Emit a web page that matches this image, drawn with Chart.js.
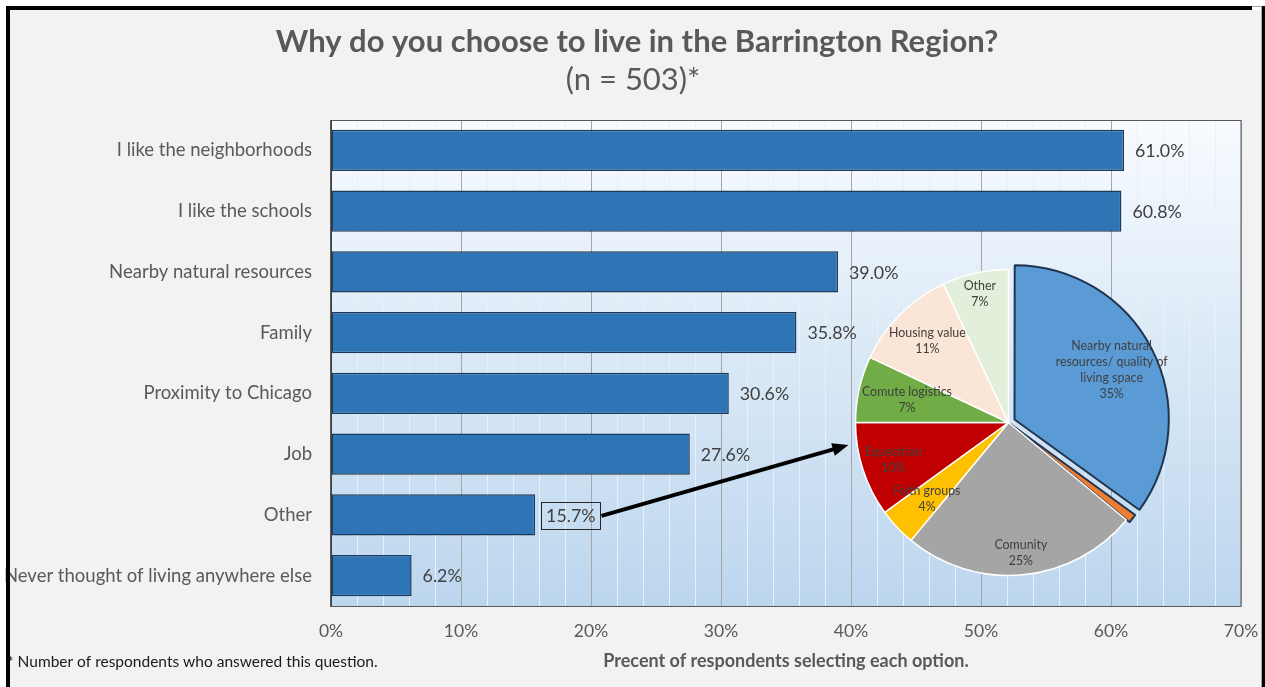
<!DOCTYPE html>
<html>
<head>
<meta charset="utf-8">
<script src="https://cdn.jsdelivr.net/npm/chart.js@4.4.1/dist/chart.umd.min.js"></script>
<style>
  html, body { margin: 0; padding: 0; background: #ffffff; }
  #wrap { position: relative; width: 1265px; height: 687px; overflow: hidden; }
  #bars { position: absolute; left: 0; top: 0; }
  #pie { position: absolute; left: 841px; top: 255px; }
</style>
</head>
<body>
<div id="wrap">
  <canvas id="bars" width="1265" height="687"></canvas>
  <canvas id="pie" width="335" height="335"></canvas>
</div>
<script>
// Bar data
const categories = [
  'I like the neighborhoods',
  'I like the schools',
  'Nearby natural resources',
  'Family',
  'Proximity to Chicago',
  'Job',
  'Other',
  'Never thought of living anywhere else'
];
const percents = [61.0, 60.8, 39.0, 35.8, 30.6, 27.6, 15.7, 6.2];
const xTickValues = [0, 10, 20, 30, 40, 50, 60, 70];

// Breakdown of "Other" answers (inset pie)
const pieLabels = [
  ['Nearby natural', 'resources/ quality of', 'living space'],
  [],
  ['Comunity'],
  ['Faith groups'],
  ['Equestrian'],
  ['Comute logistics'],
  ['Housing value'],
  ['Other']
];
const pieValues = [35, 1, 25, 4, 10, 7, 11, 7];

const titleText = 'Why do you choose to live in the Barrington Region?';
const subtitleText = '(n = 503)*';

const FONT = "Lato, 'Noto Sans', sans-serif";
const PLOT_LEFT = 331;

// Frame, titles, plot background, borders
const framePlugin = {
  id: 'frame',
  beforeDraw(chart) {
    const { ctx, chartArea: a } = chart;
    ctx.save();
    ctx.fillStyle = '#ffffff';
    ctx.fillRect(0, 0, chart.width, chart.height);
    ctx.fillStyle = '#f2f2f2';
    ctx.fillRect(10, 10, 1251, chart.height);
    const g = ctx.createLinearGradient(0, a.top, 0, a.bottom);
    g.addColorStop(0, '#f8fbff');
    g.addColorStop(0.5, '#d9e8f6');
    g.addColorStop(1, '#bcd6ee');
    ctx.fillStyle = g;
    ctx.fillRect(a.left, a.top, a.right - a.left, a.bottom - a.top);
    // titles
    ctx.fillStyle = '#595959';
    ctx.textAlign = 'center';
    ctx.textBaseline = 'middle';
    ctx.font = 'bold 31px ' + FONT;
    ctx.fillText(titleText, 637, 42);
    ctx.font = '31px ' + FONT;
    ctx.fillText(subtitleText, 633, 80);
    ctx.restore();
  },
  beforeDatasetsDraw(chart) {
    const { ctx, chartArea: a } = chart;
    ctx.save();
    ctx.strokeStyle = '#595959';
    ctx.lineWidth = 1;
    ctx.strokeRect(a.left - 0.5, a.top + 0.5, a.right - a.left + 0.5, a.bottom - a.top);
    ctx.restore();
  },
  afterDraw(chart) {
    const { ctx } = chart;
    ctx.save();
    // footnote
    ctx.fillStyle = '#1a1a1a';
    ctx.font = '15.5px ' + FONT;
    ctx.textBaseline = 'middle';
    ctx.textAlign = 'left';
    ctx.fillText('* Number of respondents who answered this question.', 7, 662);
    // outer black frame
    ctx.fillStyle = '#000000';
    ctx.fillRect(6, 6, 1246, 4);
    ctx.fillRect(6, 6, 4, chart.height);
    ctx.fillRect(1262, 6, 3, chart.height);
    ctx.fillStyle = '#a6a6a6';
    ctx.fillRect(1252, 6, 10, 1);
    ctx.fillRect(1261, 6, 1, chart.height);
    ctx.restore();
  }
};

// Value labels, boxed "Other" label and arrow to the pie
const labelPlugin = {
  id: 'valueLabels',
  afterDatasetsDraw(chart) {
    const { ctx } = chart;
    const meta = chart.getDatasetMeta(0);
    ctx.save();
    ctx.font = '17.8px ' + FONT;
    ctx.fillStyle = '#404040';
    ctx.textBaseline = 'middle';
    ctx.textAlign = 'left';
    let arrowStart = null;
    meta.data.forEach((bar, i) => {
      const txt = percents[i].toFixed(1) + '%';
      const tx = bar.x + 11;
      ctx.fillText(txt, tx, bar.y + 1);
      if (categories[i] === 'Other') {
        const w = ctx.measureText(txt).width;
        ctx.strokeStyle = '#262626';
        ctx.lineWidth = 1;
        ctx.strokeRect(Math.round(tx - 5) + 0.5, Math.round(bar.y - 13) + 0.5, Math.round(w + 10), 27);
        arrowStart = { x: tx + w + 6, y: bar.y + 1 };
      }
    });
    if (arrowStart) {
      const xs = chart.scales.x, ys = chart.scales.y;
      const ex = xs.getPixelForValue(39.8);
      const ey = ys.getPixelForValue(4.85);
      const ang = Math.atan2(ey - arrowStart.y, ex - arrowStart.x);
      const head = 16;
      ctx.strokeStyle = '#000000';
      ctx.fillStyle = '#000000';
      ctx.lineWidth = 4;
      ctx.beginPath();
      ctx.moveTo(arrowStart.x, arrowStart.y);
      ctx.lineTo(ex - Math.cos(ang) * (head - 2), ey - Math.sin(ang) * (head - 2));
      ctx.stroke();
      ctx.beginPath();
      ctx.moveTo(ex, ey);
      ctx.lineTo(ex - Math.cos(ang) * head + Math.sin(ang) * 6.5, ey - Math.sin(ang) * head - Math.cos(ang) * 6.5);
      ctx.lineTo(ex - Math.cos(ang) * head - Math.sin(ang) * 6.5, ey - Math.sin(ang) * head + Math.cos(ang) * 6.5);
      ctx.closePath();
      ctx.fill();
    }
    ctx.restore();
  }
};

new Chart(document.getElementById('bars'), {
  type: 'bar',
  data: {
    labels: categories,
    datasets: [{
      data: percents,
      backgroundColor: '#2e75b6',
      borderColor: '#1d3a5a',
      borderWidth: 1.5,
      borderSkipped: false,
      categoryPercentage: 1,
      barPercentage: 0.675
    }]
  },
  options: {
    indexAxis: 'y',
    responsive: false,
    animation: false,
    events: [],
    layout: { padding: { top: 120, left: 0, right: 24, bottom: 0 } },
    plugins: {
      legend: { display: false },
      tooltip: { enabled: false },
      title: { display: false }
    },
    scales: {
      x: {
        min: 0,
        max: 70,
        afterBuildTicks(scale) {
          const t = [];
          for (let v = 0; v <= 70; v += 2) t.push({ value: v });
          scale.ticks = t;
        },
        afterFit(scale) { scale.height = 81; },
        ticks: {
          autoSkip: false,
          maxRotation: 0,
          padding: 0,
          color: '#595959',
          font: { family: FONT, size: 17.5 },
          callback: (v) => xTickValues.includes(v) ? v + '%' : ''
        },
        grid: {
          drawTicks: true,
          tickLength: 15,
          tickColor: 'rgba(0,0,0,0)',
          color: (c) => (c.tick && xTickValues.includes(c.tick.value)) ? '#a6a6a6' : '#e9f0f8',
          lineWidth: 1
        },
        border: { display: false },
        title: {
          display: true,
          text: 'Precent of respondents selecting each option.',
          color: '#595959',
          font: { family: FONT, size: 18, weight: 'bold', lineHeight: 1.2 },
          padding: { top: 0, bottom: 15 }
        }
      },
      y: {
        afterFit(scale) { scale.width = PLOT_LEFT; },
        ticks: {
          padding: 19,
          color: '#595959',
          font: { family: FONT, size: 18.5 }
        },
        grid: { display: false, drawTicks: false },
        border: { display: true, color: '#404040', width: 1 }
      }
    }
  },
  plugins: [framePlugin, labelPlugin]
});

// Inset pie: labels drawn inside slices
const pieLabelRadius = [0.58, 0, 0.86, 0.73, 0.79, 0.68, 0.75, 0.86];
const pieLabelPlugin = {
  id: 'pieLabels',
  afterDatasetsDraw(chart) {
    const { ctx } = chart;
    const meta = chart.getDatasetMeta(0);
    ctx.save();
    ctx.font = '12.4px ' + FONT;
    ctx.fillStyle = '#404040';
    ctx.textAlign = 'center';
    ctx.textBaseline = 'middle';
    meta.data.forEach((arc, i) => {
      if (!pieLabels[i].length) return;
      const p = arc.getProps(['x', 'y', 'startAngle', 'endAngle', 'outerRadius'], true);
      const mid = (p.startAngle + p.endAngle) / 2;
      const off = arc.options.offset || 0;
      const r = p.outerRadius * pieLabelRadius[i] + off;
      const cx = p.x + Math.cos(mid) * r;
      const cy = p.y + Math.sin(mid) * r;
      const lines = pieLabels[i].concat([pieValues[i] + '%']);
      const lh = 16;
      lines.forEach((ln, k) => {
        ctx.fillText(ln, cx, cy + (k - (lines.length - 1) / 2) * lh);
      });
    });
    ctx.restore();
  }
};

new Chart(document.getElementById('pie'), {
  type: 'pie',
  data: {
    labels: pieLabels.map(l => l.join(' ')),
    datasets: [{
      data: pieValues,
      backgroundColor: ['#5b9bd5', '#ed7d31', '#a5a5a5', '#ffc000', '#c00000', '#70ad47', '#fbe5d6', '#e2efda'],
      borderColor: ['#1f3550', '#1f3550', '#ffffff', '#ffffff', '#ffffff', '#ffffff', '#ffffff', '#ffffff'],
      borderWidth: [2, 2, 1.5, 1.5, 1.5, 1.5, 1.5, 1.5],
      hoverBorderWidth: [2, 2, 1.5, 1.5, 1.5, 1.5, 1.5, 1.5],
      offset: [27, 8, 0, 0, 0, 0, 0, 0],
      hoverOffset: [27, 8, 0, 0, 0, 0, 0, 0]
    }]
  },
  options: {
    responsive: false,
    animation: false,
    events: [],
    layout: { padding: 0 },
    plugins: {
      legend: { display: false },
      tooltip: { enabled: false }
    }
  },
  plugins: [pieLabelPlugin]
});
</script>
</body>
</html>
